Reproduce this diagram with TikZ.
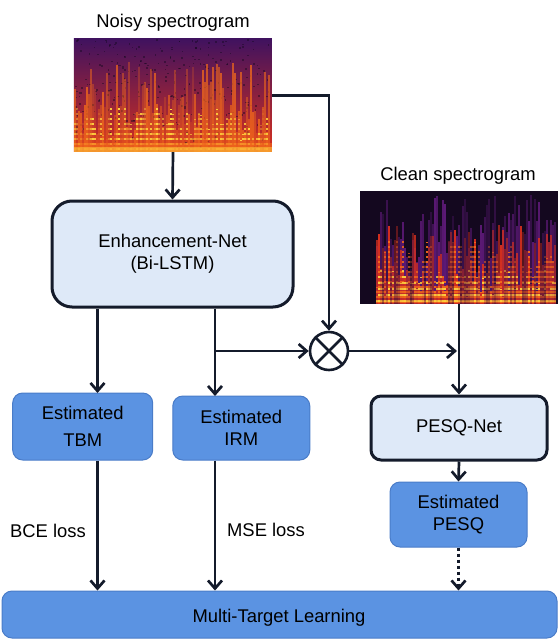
\documentclass[tikz,border=0pt]{standalone}
\usepackage{fontspec}
\setmainfont{Liberation Sans}
\usetikzlibrary{arrows.meta,calc}
\definecolor{linecol}{HTML}{141B2B}
\definecolor{boxblue}{HTML}{5B93E2}
\definecolor{boxedge}{HTML}{4A7CC8}
\definecolor{paleblue}{HTML}{DEE9F8}
\definecolor{specdark}{HTML}{40125F}
\definecolor{specmid}{HTML}{8A1F6A}
\definecolor{specred}{HTML}{D8301E}
\definecolor{specorange}{HTML}{F26A1B}
\definecolor{specyellow}{HTML}{FFD23F}
\definecolor{specblack}{HTML}{14081F}
\definecolor{specpurple}{HTML}{5E1A78}

\tikzset{
	every node/.style={font=\fontsize{18.4}{22}\selectfont, inner sep=0pt},
	arr/.style={line width=2.7pt, draw=linecol, -{Straight Barb[length=8pt,width=14pt]}},
	netbox/.style={draw=linecol, line width=3pt, fill=paleblue, align=center},
	outbox/.style={draw=boxedge, line width=1pt, fill=boxblue, rounded corners=10pt, align=center},
	specbox/.style={minimum width=198pt, minimum height=113pt},
}

\begin{document}
\begin{tikzpicture}[x=1pt,y=-1pt]
				\useasboundingbox (0,0) rectangle (559,639);
				\pgfmathsetseed{11}
				
				% spectrograms
				\node[specbox] (noisy) at (173,95.5) {};
				\node[specbox] (clean) at (459,247.5) {};
				\node[anchor=base] (noisylbl) at (173,28) {Noisy spectrogram};
				\node[anchor=base] (cleanlbl) at (458,180) {Clean spectrogram};
				
				\begin{scope}[shift={(noisy.north west)}]
					\shade[top color=specdark, middle color=specmid, bottom color=specred] (0,0) rectangle (198,113);
					\foreach \k in {1,...,350}{
						\fill[specblack, opacity=0.45] (196*rnd,111*rnd) rectangle ++(1.6,1.6);}
					\foreach \i in {0,...,97}{
						\pgfmathsetmacro\len{10+80*rnd}
						\pgfmathsetmacro\op{0.2+0.6*rnd}
						\fill[specorange, opacity=\op] (2*\i+0.5,113) rectangle ++(1.4,-\len);
						\pgfmathsetmacro\hlen{5+40*rnd}
						\pgfmathsetmacro\hop{rnd}
						\draw[specyellow, opacity=\hop, line width=1.4pt, dash pattern=on 2pt off 3pt] (2*\i+1.2,111) -- ++(0,-\hlen);}
					\fill[specorange, opacity=0.6] (0,104) rectangle (198,113);
					\fill[specyellow, opacity=0.5] (0,108) rectangle (198,113);
				\end{scope}
				
				\begin{scope}[shift={(clean.north west)}]
					\fill[specblack] (0,0) rectangle (198,113);
					\foreach \i in {8,...,97}{
						\pgfmathsetmacro\op{0.3+0.7*rnd}
						\pgfmathsetmacro\len{30+80*rnd}
						\fill[specpurple, opacity=\op] (2*\i,113) rectangle ++(2,-\len);
						\pgfmathsetmacro\rlen{10+70*rnd}
						\fill[specred, opacity=\op] (2*\i+0.3,113) rectangle ++(1.5,-\rlen);
						\pgfmathsetmacro\olen{5+60*rnd}
						\draw[specorange, opacity=\op, line width=1.6pt, dash pattern=on 2pt off 3pt] (2*\i+1,112) -- ++(0,-\olen);
						\pgfmathsetmacro\ylen{2+30*rnd}
						\draw[specyellow, opacity=\op, line width=1.6pt, dash pattern=on 2pt off 4pt] (2*\i+1,111) -- ++(0,-\ylen);}
				\end{scope}
				
				% networks and outputs
				\node[netbox, rounded corners=20pt, minimum width=241pt, minimum height=106pt] (enh) at (172.5,254) {Enhancement-Net\\(Bi-LSTM)};
				\node[netbox, rounded corners=10pt, minimum width=176pt, minimum height=64pt] (pesqnet) at (459,428) {PESQ-Net};
				\node[outbox, minimum width=140pt, minimum height=67pt] (tbm) at (82.7,426.5) {Estimated\\[5pt]TBM};
				\node[outbox, minimum width=137pt, minimum height=64pt] (irm) at (241.3,428) {Estimated\\IRM};
				\node[outbox, minimum width=137pt, minimum height=65pt] (pesq) at (458.5,514.5) {Estimated\\PESQ};
				\node[outbox, minimum width=555pt, minimum height=47pt] (mtl) at (279.5,614.5) {};
				\node[anchor=base] (mtllbl) at (279,622) {Multi-Target Learning};
				\node[circle, draw=linecol, line width=2.6pt, fill=white, minimum size=38pt] (mult) at (329,351) {};
				\draw[linecol, line width=2.6pt] (mult.north west) -- (mult.south east) (mult.north east) -- (mult.south west);
				
				\node[anchor=base] (bce) at (48,537) {BCE loss};
				\node[anchor=base] (mse) at (266,536) {MSE loss};
				
				% connectors
				\coordinate (tbmin) at (97.5,393);
				\coordinate (irmin) at (215,396);
				\coordinate (branch) at (215,351);
				
				\draw[arr] (noisy.south) -- (enh.north);
				\draw[arr] (enh.south -| tbmin) -- (tbmin);
				\draw[arr] (enh.south -| irmin) -- (irmin);
				\draw[arr] (tbm.south -| tbmin) -- (mtl.north -| tbmin);
				\draw[arr] (irm.south -| irmin) -- (mtl.north -| irmin);
				\draw[arr] (branch) -- (mult.west);
				\draw[arr] (noisy.east) -- (noisy.east -| mult.north) -- (mult.north);
				\draw[arr, shorten >=2pt] (mult.east) -- (mult.east -| clean.south);
				\draw[arr] (clean.south) -- (pesqnet.north);
				\draw[arr] (pesqnet.south) -- (pesq.north);
				\draw[arr, dash pattern=on 3pt off 3pt] (pesq.south) -- (pesq.south |- mtl.north);
			\end{tikzpicture}
\end{document}
